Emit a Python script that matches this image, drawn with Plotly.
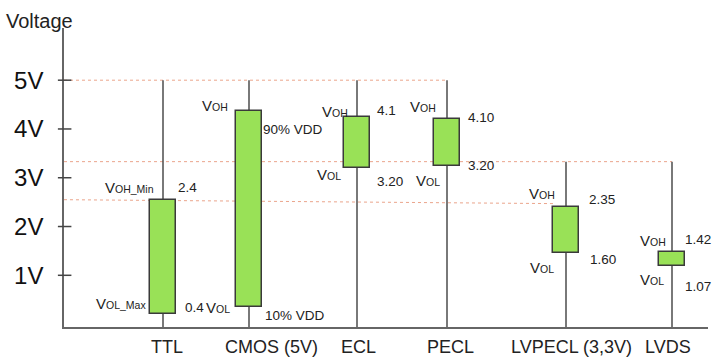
import plotly.graph_objects as go

# ---------------- data ----------------
categories = ["TTL", "CMOS (5V)", "ECL", "PECL", "LVPECL (3,3V)", "LVDS"]
box_low = [0.20, 0.34, 3.19, 3.24, 1.45, 1.19]
box_high = [2.54, 4.37, 4.24, 4.20, 2.41, 1.47]
stem_top = [5.0, 5.0, 5.0, 5.0, 3.33, 3.33]
high_values = ["2.4", "90% VDD", "4.1", "4.10", "2.35", "1.42"]
low_values = ["0.4", "10% VDD", "3.20", "3.20", "1.60", "1.07"]
high_names = [("V", "OH_Min"), ("V", "OH"), ("V", "OH"), ("V", "OH"), ("V", "OH"), ("V", "OH")]
low_names = [("V", "OL_Max"), ("V", "OL"), ("V", "OL"), ("V", "OL"), ("V", "OL"), ("V", "OL")]
ytick_vals = [1, 2, 3, 4, 5]
ytick_text = ["1V", "2V", "3V", "4V", "5V"]
ref_levels = [5.0, 3.33, 2.55]          # dotted reference lines
ref_levels_end = [5.0, 3.33, 2.47]
ref_end_cat = [3, 5, 4]                 # category index where each dotted line ends

# ---------------- layout helpers ----------------
cat_x = [99, 185, 293, 383, 502, 608]           # category centres on the x axis
cat_label_dx = [4, 22, 1, 3, 5, -4]
# label placements: (xshift px, y in volts)
hi_name_pos = [(-9, 2.79), (-21, 4.49), (-9, 4.36), (-11, 4.46), (-11, 2.67), (-6, 1.72)]
hi_val_pos = [(15, 2.79), (14, 3.98), (20, 4.37), (21, 4.23), (23, 2.56), (13, 1.74)]
lo_name_pos = [(-17, 0.43), (-19, 0.33), (-16, 3.06), (-7, 2.95), (-12, 1.155), (-8, 0.92)]
lo_val_pos = [(22, 0.33), (16, 0.185), (20, 2.93), (21, 3.26), (24, 1.33), (13, 0.78)]

FONT = "Liberation Sans, Arial, sans-serif"
TXT = "#222222"
STEM = "#4d4d4d"
BOX = "#99E157"
BOX_LINE = "#3a3a3a"
DOT = "#EBA58C"

fig = go.Figure()

shapes = []
# dotted reference lines
for lvl, lvl_end, ci in zip(ref_levels, ref_levels_end, ref_end_cat):
    x_end = cat_x[ci] - (13 if ci == 4 else 0)
    shapes.append(dict(type="line", xref="x", yref="y", x0=0, x1=x_end, y0=lvl, y1=lvl_end,
                       line=dict(color=DOT, width=1, dash="dot"), layer="below"))
# stems
for cx, top in zip(cat_x, stem_top):
    shapes.append(dict(type="line", xref="x", yref="y", x0=cx, x1=cx, y0=-0.06, y1=top,
                       line=dict(color=STEM, width=1.5), layer="below"))
# y tick marks crossing the axis
for v in ytick_vals:
    shapes.append(dict(type="line", xref="paper", yref="y", x0=-0.0095, x1=0.0115, y0=v, y1=v,
                       line=dict(color="#444444", width=1.5)))

fig.add_trace(go.Bar(
    x=cat_x,
    y=[h - l for h, l in zip(box_high, box_low)],
    base=box_low,
    width=26,
    marker=dict(color=BOX, line=dict(color=BOX_LINE, width=1.5)),
    hoverinfo="skip",
    showlegend=False,
))


def vsub(parts, big=15, small=10.5):
    return f"<span style='font-size:{big}px'>{parts[0]}</span><span style='font-size:{small}px'>{parts[1]}</span>"


annotations = []


def add_label(ci, text, pos, anchor, size=13.5):
    dx, yv = pos
    annotations.append(dict(x=cat_x[ci], y=yv, xref="x", yref="y", text=text, showarrow=False,
                            xanchor=anchor, yanchor="middle", xshift=dx,
                            font=dict(family=FONT, size=size, color=TXT),
                            borderpad=0, borderwidth=0))


for i in range(len(categories)):
    add_label(i, vsub(high_names[i]), hi_name_pos[i], "right")
    add_label(i, high_values[i], hi_val_pos[i], "left")
    add_label(i, vsub(low_names[i]), lo_name_pos[i], "right")
    add_label(i, low_values[i], lo_val_pos[i], "left")

# category labels
for i, c in enumerate(categories):
    annotations.append(dict(x=cat_x[i], y=0, xref="x", yref="paper", text=c, showarrow=False,
                            xanchor="center", yanchor="middle", xshift=cat_label_dx[i], yshift=-20,
                            font=dict(family=FONT, size=18, color=TXT)))

# axis title
annotations.append(dict(x=0, y=1, xref="paper", yref="paper", text="Voltage", showarrow=False,
                        xanchor="left", yanchor="middle", xshift=-60, yshift=7,
                        font=dict(family=FONT, size=20, color=TXT)))

fig.update_layout(
    width=718, height=361,
    margin=dict(l=64, r=10, t=28, b=34),
    paper_bgcolor="white", plot_bgcolor="white",
    shapes=shapes, annotations=annotations,
    xaxis=dict(range=[0, 644], showline=True, linecolor="#666666", linewidth=1.5,
               showgrid=False, zeroline=False, showticklabels=False, ticks="", fixedrange=True),
    yaxis=dict(range=[-0.06, 6.07], showline=True, linecolor="#666666", linewidth=1.5,
               showgrid=False, zeroline=False, tickvals=ytick_vals, ticktext=ytick_text,
               ticks="", ticklabelstandoff=14,
               tickfont=dict(family=FONT, size=24, color="#111111"), fixedrange=True),
    bargap=0,
)

fig.write_html("out.html", config={"displayModeBar": False},
               post_script="document.body.style.margin='0';document.body.style.padding='0';")
